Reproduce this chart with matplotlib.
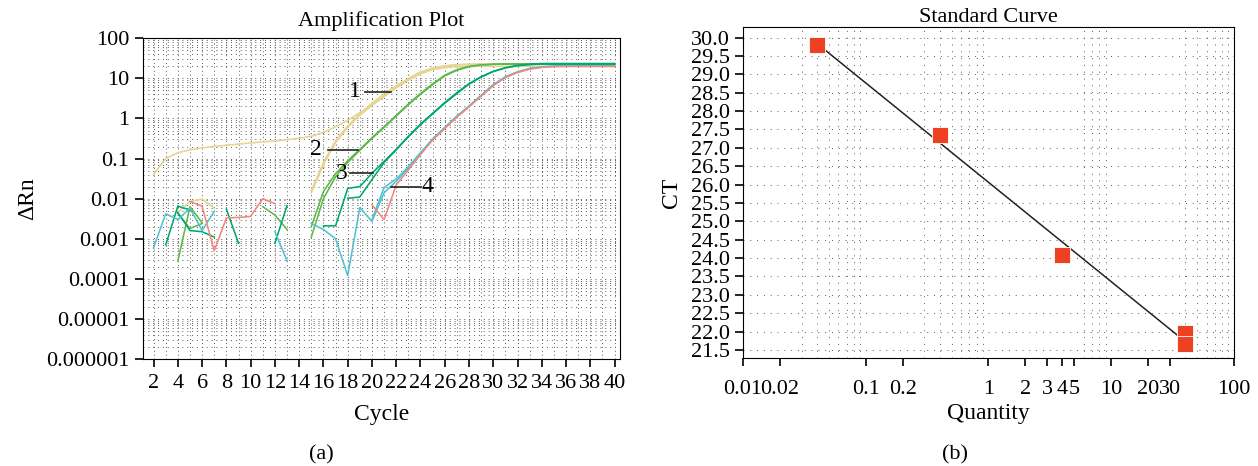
import numpy as np
import matplotlib as mpl

mpl.use('Agg')
import matplotlib.pyplot as plt
from matplotlib.ticker import FixedLocator, FixedFormatter, LogLocator, MultipleLocator, NullFormatter

plt.rcParams['font.family'] = ['Liberation Serif', 'DejaVu Serif']

N = np.nan
cycles = np.arange(1, 41)

# amplification curves, one value per cycle (nan = not plotted)
yellow_a = [N, 0.04, 0.1, 0.14, 0.165, 0.185, 0.2, 0.215, 0.23, 0.245, 0.26, 0.275, 0.295, 0.32,
            0.36, 0.45, 0.62, 0.9, 1.4, 2.2, 3.6, 6.0, 9.5, 14, 18, 20.5, 21.7, 22.3] + [22.6] * 12
yellow_b = [N] * 3 + [0.0045, 0.0085, 0.0098, 0.0058] + [N] * 7 + \
           [0.014, 0.07, 0.25, 0.6, 1.2, 2.1, 3.5, 5.8, 9, 13, 16.5, 18.5, 19.5] + [20] * 13
yellow_c = [N] * 14 + [0.016, 0.08, 0.28, 0.65, 1.3, 2.4, 4.1, 6.6, 10, 14.5, 18, 20.5, 21.8, 22.6] + [23] * 12
green_a = [N] * 3 + [0.00028, 0.0063, 0.0025] + [N] * 4 + [0.0063, 0.0039, 0.0017, N] + \
          [0.0011, 0.01, 0.035, 0.08, 0.16, 0.32, 0.6, 1.15, 2.2, 4, 7, 11.5, 16, 19.5, 21.5, 22.5] + [23] * 10
green_b = [N] * 3 + [0.0043, 0.0018, 0.0024] + [N] * 8 + \
          [0.002, 0.015, 0.042, 0.088, 0.17, 0.33, 0.62, 1.2, 2.3, 4.2, 7.3, 12, 16.5, 20, 21.8, 22.4] + [22.6] * 10
teal_a = [N] * 2 + [0.0007, 0.0065, 0.0052, N, N, 0.0055, 0.00077] + [N] * 6 + \
         [0.0021, 0.0021, 0.018, 0.02, 0.043, 0.085, 0.17, 0.36, 0.72, 1.35, 2.5, 4.4, 7.4, 11, 15, 18.5, 21,
          22.6] + [23.5] * 7
teal_b = [N] * 3 + [0.0045, 0.0016, 0.0015, 0.0011] + [N] * 4 + [0.00077, 0.0067] + [N] * 4 + \
         [0.0102, 0.011, 0.03, 0.08, 0.165, 0.35, 0.7, 1.3, 2.4, 4.2, 7.2, 10.8, 14.8, 18.2, 20.8, 22] + [22.8] * 7
cyan_a = [N, 0.0006, 0.0042, 0.003, 0.0058, 0.0016, 0.0048] + [N] * 4 + [0.0015, 0.00028, N] + \
         [0.0024, 0.0017, 0.001, 0.00012, 0.006, 0.0027, 0.014, 0.027, 0.058, 0.135, 0.3, 0.58, 1.1, 2.0, 3.7,
          6.8, 10.8, 14.3, 17.4, 19.3, 20.2] + [20.5] * 5
cyan_b = [N] * 19 + [0.003, 0.019, 0.031, 0.062, 0.14, 0.31, 0.6, 1.15, 2.05, 3.8, 7, 11, 14.6, 17.6, 19.4,
                     20.2] + [20.5] * 5
salmon_a = [N] * 4 + [0.0085, 0.0065, 0.0005, 0.0033, 0.0034, 0.0036, 0.01, 0.0075] + [N] * 7 + \
           [0.007, 0.003, 0.022, 0.052, 0.125, 0.29, 0.56, 1.08, 1.95, 3.6, 6.6, 10.5, 14, 17, 18.8, 19.6] + [19.9] * 5

curve_colors = {'yellow': '#E6D58E', 'green': '#5DB94A', 'teal': '#00A86E', 'cyan': '#4FC3D2', 'salmon': '#F3877B'}
curves = [(yellow_a, 'yellow'), (yellow_b, 'yellow'), (yellow_c, 'yellow'),
          (green_a, 'green'), (green_b, 'green'), (teal_a, 'teal'), (teal_b, 'teal'),
          (cyan_a, 'cyan'), (cyan_b, 'cyan'), (salmon_a, 'salmon')]

# curve labels: (text, text cycle, leader start, leader end, level)
curve_labels = [('1', 18.6, 19.4, 21.6, 4.7), ('2', 15.4, 16.4, 18.85, 0.165),
                ('3', 17.5, 18.2, 20.1, 0.043), ('4', 24.6, 21.6, 24.06, 0.02)]

amp_yticks = [1e-6, 1e-5, 1e-4, 1e-3, 1e-2, 1e-1, 1, 10, 100]
amp_ylabels = ['0.000001', '0.00001', '0.0001', '0.001', '0.01', '0.1', '1', '10', '100']

# standard curve
quantity = [0.04, 0.4, 4, 40, 40]
ct = [29.81, 27.36, 24.08, 21.95, 21.67]
q_ticks = [0.01, 0.02, 0.1, 0.2, 1, 2, 3, 4, 5, 10, 20, 30, 100]
q_labels = ['0.01', '0.02', '0.1', '0.2', '1', '2', '3', '4', '5', '10', '20', '30', '100']

fig = plt.figure(figsize=(12.58, 4.66), dpi=100)
grid_kw = dict(color='0.35', lw=0.7)

# ---- (a) amplification plot
ax1 = fig.add_axes([0.1134, 0.2296, 0.3795, 0.6882])
ax1.set_yscale('log')
ax1.set_xlim(1.1, 40.45)
ax1.set_ylim(1e-6, 100)
for vals, cname in curves:
    ax1.plot(cycles, vals, color=curve_colors[cname], lw=1.15)
for txt, tx, x0, x1, lev in curve_labels:
    ax1.plot([x0, x1], [lev, lev], color='#222222', lw=1.2)
    ax1.text(tx, lev, txt, fontsize=17, ha='center', va='center')
ax1.xaxis.set_major_locator(FixedLocator(np.arange(2, 41, 2)))
ax1.xaxis.set_minor_locator(MultipleLocator(1))
ax1.yaxis.set_major_locator(FixedLocator(amp_yticks))
ax1.yaxis.set_major_formatter(FixedFormatter(amp_ylabels))
ax1.yaxis.set_minor_locator(LogLocator(base=10, subs=np.arange(2, 10), numticks=20))
ax1.yaxis.set_minor_formatter(NullFormatter())
ax1.grid(which='both', axis='x', ls=(0, (1, 3)), **grid_kw)
ax1.grid(which='both', axis='y', ls=(0, (1, 4)), **grid_kw)
ax1.tick_params(which='major', direction='out', length=6, width=1.2, labelsize=16)
ax1.tick_params(axis='x', pad=4.5)
ax1.tick_params(which='minor', length=0)
ax1.set_title('Amplification Plot', fontsize=16, pad=9)
ax1.set_xlabel('Cycle', fontsize=17, labelpad=8)
ax1.set_ylabel('ΔRn', fontsize=17, labelpad=6)

# ---- (b) standard curve
ax2 = fig.add_axes([0.5906, 0.2318, 0.3903, 0.7097])
ax2.set_xscale('log')
ax2.set_xlim(0.01, 100)
ax2.set_ylim(21.28, 30.28)
lx = np.log10(quantity)
slope, icpt = np.polyfit(lx, ct, 1)
fit_x = np.array([min(quantity), max(quantity)])
ax2.plot(fit_x, slope * np.log10(fit_x) + icpt, color='#222222', lw=1.1, zorder=3)
ax2.plot(quantity, ct, 's', color='#EE4123', markersize=11.5, mec='white', mew=0.6, zorder=4)
ax2.xaxis.set_major_locator(FixedLocator(q_ticks))
ax2.xaxis.set_major_formatter(FixedFormatter(q_labels))
ax2.xaxis.set_minor_locator(LogLocator(base=10, subs=np.arange(1, 10), numticks=20))
ax2.xaxis.set_minor_formatter(NullFormatter())
ax2.yaxis.set_major_locator(MultipleLocator(0.5))
ax2.yaxis.set_major_formatter(mpl.ticker.FormatStrFormatter('%.1f'))
ax2.grid(which='minor', axis='x', ls=(0, (1, 6)), **grid_kw)
ax2.grid(which='major', axis='y', ls=(0, (1, 6)), **grid_kw)
ax2.tick_params(which='major', direction='out', length=6, width=1.2, labelsize=16)
ax2.tick_params(which='minor', length=0)
ax2.tick_params(axis='x', pad=10)
ax2.set_title('Standard Curve', fontsize=16, pad=4)
ax2.set_xlabel('Quantity', fontsize=17, labelpad=3)
ax2.set_ylabel('CT', fontsize=17, labelpad=6)

fig.text(0.2552, 1 - 455 / 466, '(a)', fontsize=16, ha='center', va='center')
fig.text(0.7595, 1 - 455 / 466, '(b)', fontsize=16, ha='center', va='center')

fig.savefig('out.png', dpi=100)
